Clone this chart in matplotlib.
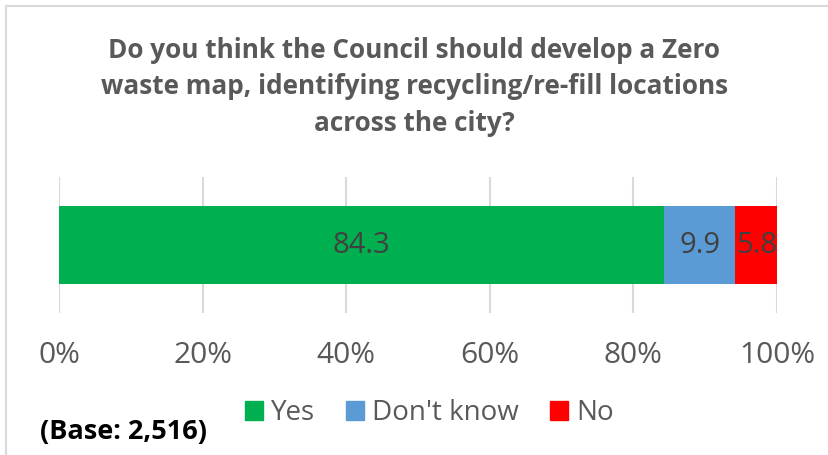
import matplotlib.pyplot as plt
from matplotlib.lines import Line2D
from matplotlib.patches import Patch

categories = ['Yes', "Don't know", 'No']
values = [84.3, 9.9, 5.8]
colors = ['#00b050', '#5b9bd5', '#ff0000']
xticks = [0, 20, 40, 60, 80, 100]

plt.rcParams['font.family'] = ['Open Sans', 'DejaVu Sans']

fig = plt.figure(figsize=(8.29, 4.55), dpi=100)
ax = fig.add_axes([0.0712, 0.312, 0.8661, 0.299])

left = 0
for cat, v, c in zip(categories, values, colors):
    ax.barh(0, v, left=left, height=0.574, color=c, label=cat, zorder=2)
    ax.text(left + v / 2, 0, f'{v:.1f}', ha='center', va='center',
            fontsize=21, color='#404040', zorder=3)
    left += v

ax.set_xlim(0, 100)
ax.set_ylim(-0.5, 0.5)
ax.set_xticks(xticks)
ax.set_xticklabels([f'{t}%' for t in xticks], fontsize=21.5, color='#595959')
ax.set_yticks([])
ax.tick_params(axis='x', length=0, pad=20)
ax.grid(axis='x', color='#d9d9d9', linewidth=1.5, zorder=0)
for s in ax.spines.values():
    s.set_visible(False)

fig.text(0.5, 0.809, 'Do you think the Council should develop a Zero\n'
         'waste map, identifying recycling/re-fill locations\n'
         'across the city?', ha='center', va='center', fontsize=18.8,
         fontweight='bold', color='#595959', linespacing=1.45)

handles = [Patch(color=c) for c in colors]
fig.legend(handles, categories, loc='center', bbox_to_anchor=(0.518, 0.092),
           ncol=3, frameon=False, fontsize=20, handlelength=0.65,
           handleheight=0.65, handletextpad=0.3, columnspacing=1.1,
           labelcolor='#595959')

fig.text(0.048, 0.05, '(Base: 2,516)', fontsize=19.5, fontweight='bold',
         color='black', ha='left', va='center')

# chart frame
fig.add_artist(Line2D([0.0075, 0.0075], [0, 0.987], color='#d9d9d9', lw=1.5))
fig.add_artist(Line2D([0.0075, 1], [0.987, 0.987], color='#d9d9d9', lw=1.5))

fig.savefig('out.png', dpi=100)
